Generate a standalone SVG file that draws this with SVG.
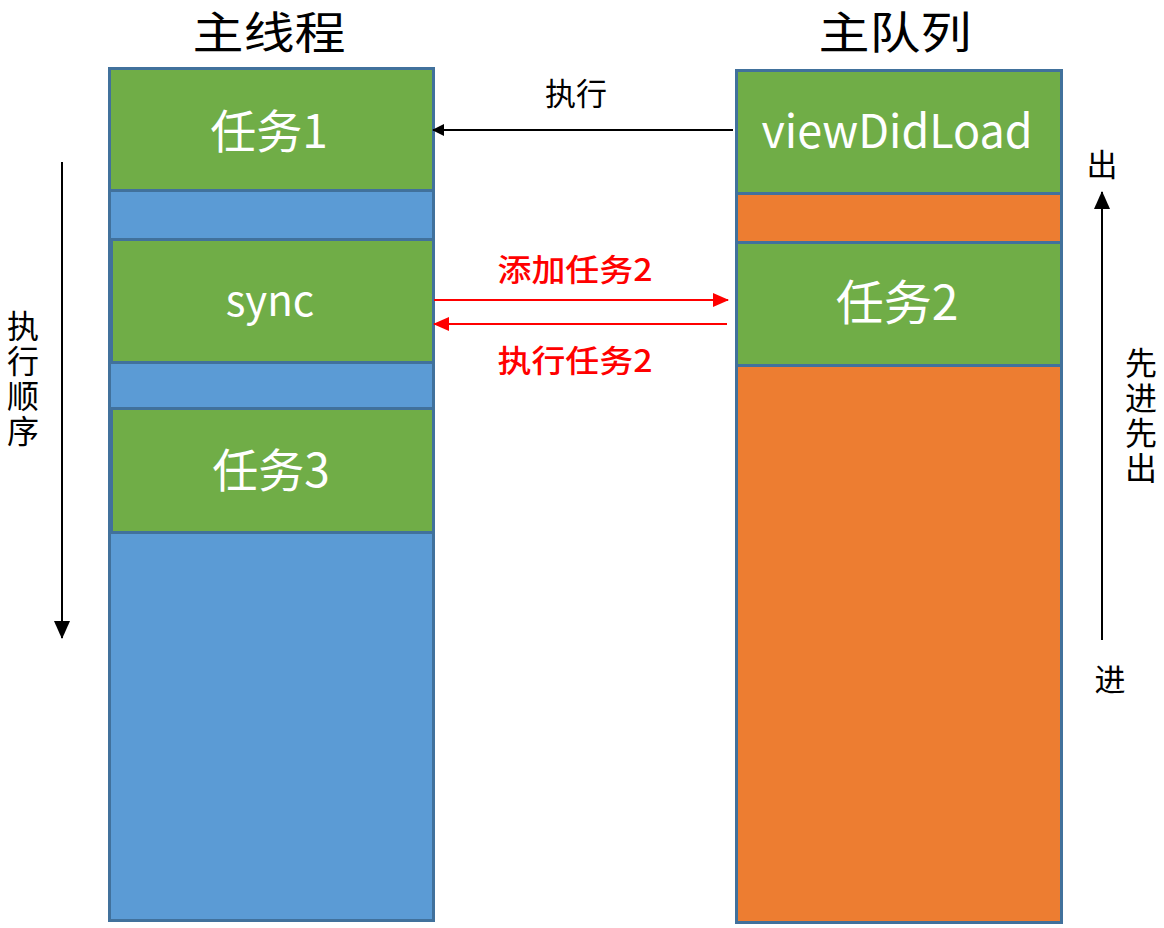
<svg xmlns="http://www.w3.org/2000/svg" width="1164" height="928" viewBox="0 0 1164 928">
<defs>
<style>
.box{stroke:#41719C;stroke-width:3}
.g{fill:#70AD47}.b{fill:#5B9BD5}.o{fill:#ED7D31}
.wt{fill:#fff;font-family:"Noto Sans CJK SC","Open Sans",sans-serif;text-anchor:middle}
.title{font-family:"Noto Sans CJK SC",sans-serif;font-size:44px;fill:#000;text-anchor:middle}
.lab{font-family:"Noto Sans CJK SC",sans-serif;font-size:31px;fill:#000;text-anchor:middle}
.vert{font-family:"Noto Sans CJK SC",sans-serif;font-size:32px;fill:#000;writing-mode:vertical-rl;letter-spacing:3px}
.red{font-family:"Noto Sans CJK SC",sans-serif;font-size:31px;fill:#FF0000;text-anchor:middle;font-weight:500}
.ln{stroke:#000;stroke-width:2;fill:none}
.lr{stroke:#FF0000;stroke-width:2;fill:none}
</style>
<marker id="ab" markerWidth="12" markerHeight="12" refX="11" refY="6" orient="auto" markerUnits="userSpaceOnUse" viewBox="0 0 12 12"><path d="M0,0 L12,6 L0,12 z" fill="#000"/></marker>
<marker id="abig" markerWidth="18" markerHeight="16" refX="17" refY="8" orient="auto" markerUnits="userSpaceOnUse" viewBox="0 0 18 16"><path d="M0,0 L18,8 L0,16 z" fill="#000"/></marker>
<marker id="ar" markerWidth="16" markerHeight="14" refX="15" refY="7" orient="auto" markerUnits="userSpaceOnUse" viewBox="0 0 16 14"><path d="M0,0 L16,7 L0,14 z" fill="#FF0000"/></marker>
</defs>
<rect width="1164" height="928" fill="#fff"/>

<text class="title" x="269" y="49" textLength="153" lengthAdjust="spacingAndGlyphs">主线程</text>
<text class="title" x="895" y="49" textLength="153" lengthAdjust="spacingAndGlyphs">主队列</text>

<g id="main-thread">
<rect class="box b" x="109.5" y="68.5" width="324" height="852"/>
</g>
<g id="task1">
<rect class="box g" x="109.5" y="68.5" width="324" height="122"/>
<text class="wt" x="269" y="148" font-size="46">任务1</text>
</g>
<g id="sync">
<rect class="box g" x="111.5" y="239.5" width="322" height="123"/>
<text class="wt" x="270" y="316" font-size="42">sync</text>
</g>
<g id="task3">
<rect class="box g" x="111.5" y="408.5" width="322" height="124"/>
<text class="wt" x="271" y="487" font-size="46">任务3</text>
</g>

<g id="main-queue">
<rect class="box o" x="736.5" y="70.5" width="325" height="852"/>
</g>
<g id="viewDidLoad">
<rect class="box g" x="736.5" y="70.5" width="325" height="123"/>
<text class="wt" x="897" y="148" font-size="46" textLength="271" lengthAdjust="spacingAndGlyphs">viewDidLoad</text>
</g>
<g id="task2">
<rect class="box g" x="736.5" y="242.5" width="325" height="123"/>
<text class="wt" x="897" y="320" font-size="48">任务2</text>
</g>

<g id="connectors">
<line class="ln" x1="733" y1="130" x2="433" y2="130" marker-end="url(#ab)"/>
<line class="lr" x1="434" y1="300" x2="728" y2="300" marker-end="url(#ar)"/>
<line class="lr" x1="727" y1="324" x2="434" y2="324" marker-end="url(#ar)"/>
<line class="ln" x1="62" y1="162" x2="62" y2="638" marker-end="url(#abig)"/>
<line class="ln" x1="1102" y1="640" x2="1102" y2="192" marker-end="url(#abig)"/>
</g>

<text class="lab" x="576" y="105">执行</text>
<text class="red" x="575" y="281" textLength="155" lengthAdjust="spacingAndGlyphs">添加任务2</text>
<text class="red" x="575" y="372" textLength="155" lengthAdjust="spacingAndGlyphs">执行任务2</text>

<text class="vert" x="23" y="310">执行顺序</text>
<text class="vert" x="1141" y="347" font-size="31" letter-spacing="4">先进先出</text>
<text class="lab" x="1102" y="176">出</text>
<text class="lab" x="1110" y="691">进</text>
</svg>
